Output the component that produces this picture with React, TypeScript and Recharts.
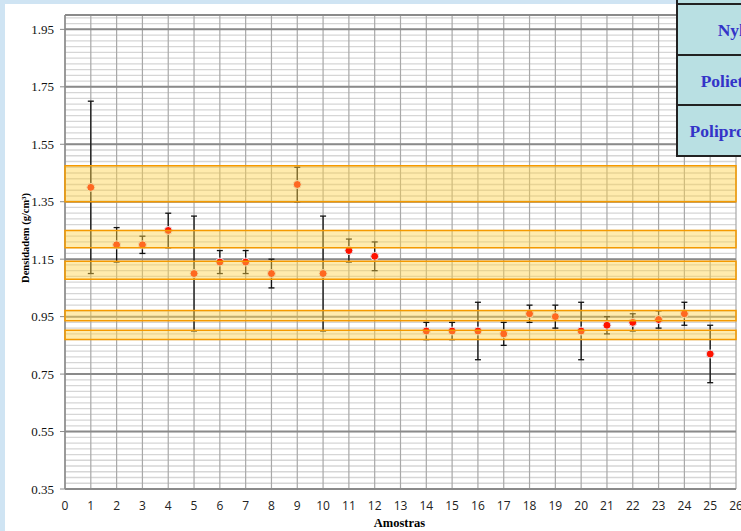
import { ScatterChart, Scatter, XAxis, YAxis, CartesianGrid, ErrorBar, ReferenceArea } from "recharts";

// amostras (sample 13 has no measurement)
const samples = [1, 2, 3, 4, 5, 6, 7, 8, 9, 10, 11, 12, 14, 15, 16, 17, 18, 19, 20, 21, 22, 23, 24, 25];
const densities = [1.4, 1.2, 1.2, 1.25, 1.1, 1.14, 1.14, 1.1, 1.41, 1.1, 1.18, 1.16, 0.9, 0.9, 0.9, 0.89, 0.96, 0.95, 0.9, 0.92, 0.93, 0.94, 0.96, 0.82];
const deviations = [0.3, 0.06, 0.03, 0.06, 0.2, 0.04, 0.04, 0.05, 0.06, 0.2, 0.04, 0.05, 0.03, 0.03, 0.1, 0.04, 0.03, 0.04, 0.1, 0.03, 0.03, 0.03, 0.04, 0.1];

// faixas de densidade de referência [min, max]
const bandLows = [1.35, 1.19, 1.08, 0.936, 0.87];
const bandHighs = [1.475, 1.25, 1.143, 0.971, 0.903];

const materials = ["Nylon", "Polietileno", "Polipropileno"];

const xTicks = [0, 1, 2, 3, 4, 5, 6, 7, 8, 9, 10, 11, 12, 13, 14, 15, 16, 17, 18, 19, 20, 21, 22, 23, 24, 25, 26];
const yTicks = [0.35, 0.55, 0.75, 0.95, 1.15, 1.35, 1.55, 1.75, 1.95];
const yMin = 0.35;
const yMax = 2.0;

const minorTicks: number[] = [];
for (let i = 0; i <= 82; i++) minorTicks.push(+(yMin + i * 0.02).toFixed(2));

const data = samples.map((s, i) => ({ x: s, y: densities[i], err: deviations[i] }));

const Dot = (p: any) => (
  <circle cx={p.cx} cy={p.cy} r={4} fill="#ff1200" stroke="#e4ecf3" strokeWidth={1} />
);

// pixel rows for the minor grid lines, from the plot offset
const minorRows = ({ offset }: any) =>
  minorTicks
    .filter((v) => v <= yMax)
    .map((v) => offset.top + ((yMax - v) / (yMax - yMin)) * offset.height);

export default function App() {
  return (
    <div style={{ position: "relative", width: 741, height: 531, overflow: "hidden", background: "#cfe4f3" }}>
      <style>{"body{margin:0}"}</style>
      <div style={{ position: "absolute", left: 5, top: 4, width: 736, height: 527, background: "#fff" }} />

      <div style={{ position: "absolute", left: 0, top: 0 }}>
        <ScatterChart width={741} height={531} margin={{ top: 15, right: 5, bottom: 12, left: 1 }}>
          <CartesianGrid horizontalCoordinatesGenerator={minorRows} vertical={false} stroke="#d6d6d6" strokeWidth={1.3} />
          <CartesianGrid horizontal={false} stroke="#a8a8a8" strokeWidth={1.2} />
          <CartesianGrid vertical={false} stroke="#8a8a8a" strokeWidth={2} />
          <XAxis
            type="number"
            dataKey="x"
            domain={[0, 26]}
            ticks={xTicks}
            interval={0}
            height={30}
            tickLine={false}
            tickSize={0}
            tickMargin={12}
            axisLine={{ stroke: "#8a8a8a", strokeWidth: 2 }}
            tick={{ fontFamily: "Open Sans", fontSize: 12, fill: "#222" }}
          />
          <YAxis
            type="number"
            dataKey="y"
            domain={[yMin, yMax]}
            ticks={yTicks}
            allowDataOverflow
            width={64}
            tickSize={5}
            tickMargin={6}
            tickLine={{ stroke: "#8a8a8a" }}
            axisLine={{ stroke: "#8a8a8a", strokeWidth: 1.5 }}
            tickFormatter={(v: number) => v.toFixed(2)}
            tick={{ fontFamily: "Liberation Serif", fontSize: 13, fill: "#111" }}
          />
          <Scatter data={data} shape={Dot} isAnimationActive={false}>
            <ErrorBar dataKey="err" direction="y" width={3} stroke="#111" strokeWidth={1.3} />
          </Scatter>
          {bandLows.map((lo, i) => (
            <ReferenceArea
              key={i}
              y1={lo}
              y2={bandHighs[i]}
              fill="#ffd24a"
              fillOpacity={0.45}
              stroke="#f59a00"
              strokeWidth={1.5}
              strokeOpacity={1}
              zIndex={700}
            />
          ))}
        </ScatterChart>
      </div>

      <div
        style={{
          position: "absolute",
          left: 24.5,
          top: 237.5,
          transform: "translate(-50%, -50%) rotate(-90deg)",
          whiteSpace: "nowrap",
          fontFamily: "Liberation Serif",
          fontWeight: "bold",
          fontSize: 10.5,
          color: "#000",
        }}
      >
        Densidadem (g/cm³)
      </div>
      <div
        style={{
          position: "absolute",
          left: 399.5,
          top: 523,
          transform: "translate(-50%, -50%)",
          whiteSpace: "nowrap",
          fontFamily: "Liberation Serif",
          fontWeight: "bold",
          fontSize: 12.5,
          color: "#000",
        }}
      >
        Amostras
      </div>

      <div style={{ position: "absolute", left: 676, top: -47, width: 124, background: "#b9e0e3", borderLeft: "2px solid #222" }}>
        <div style={{ height: 50, borderBottom: "2px solid #222" }} />
        {materials.map((m) => (
          <div
            key={m}
            style={{
              height: 50.5,
              paddingTop: 3,
              boxSizing: "border-box",
              borderBottom: "2px solid #222",
              display: "flex",
              alignItems: "center",
              justifyContent: "center",
              whiteSpace: "nowrap",
              fontFamily: "Liberation Serif",
              fontWeight: "bold",
              fontSize: 17.5,
              color: "#3434c8",
            }}
          >
            {m}
          </div>
        ))}
      </div>
    </div>
  );
}
